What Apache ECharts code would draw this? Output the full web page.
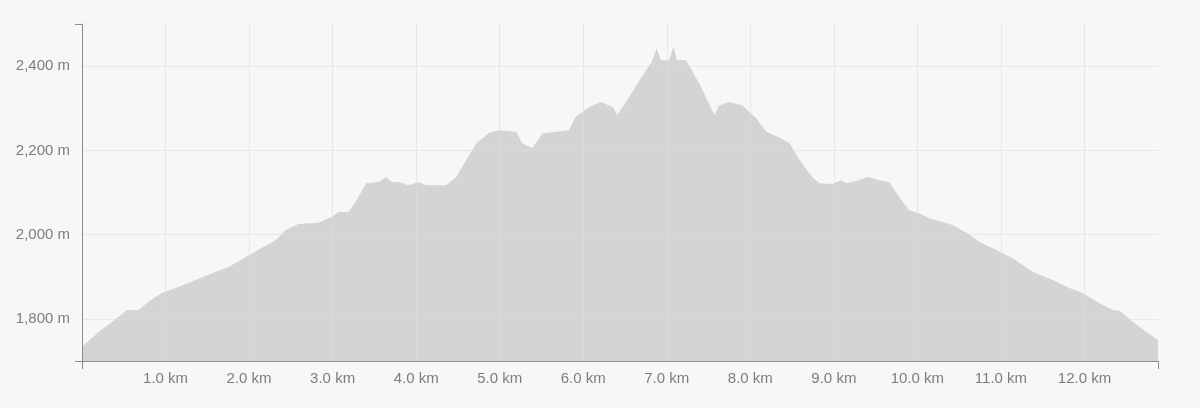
<!DOCTYPE html>
<html>
<head>
<meta charset="utf-8">
<script src="https://cdn.jsdelivr.net/npm/echarts@6/dist/echarts.min.js"></script>
<style>
  html, body { margin: 0; padding: 0; background: #f7f7f7; }
  #chart { width: 1200px; height: 408px; }
</style>
</head>
<body>
<div id="chart"></div>
<script>
// Distance along route (km)
const distanceKm = [
  0.00, 0.20, 0.44, 0.54, 0.68, 0.80, 0.95, 1.16, 1.36, 1.55,
  1.76, 1.96, 2.15, 2.32, 2.44, 2.59, 2.83, 2.99, 3.07, 3.19,
  3.29, 3.40, 3.55, 3.64, 3.71, 3.79, 3.91, 4.03, 4.12, 4.36,
  4.48, 4.60, 4.72, 4.87, 4.99, 5.20, 5.27, 5.39, 5.51, 5.67,
  5.83, 5.91, 6.07, 6.21, 6.35, 6.41, 6.55, 6.75, 6.82, 6.88,
  6.93, 7.03, 7.08, 7.12, 7.23, 7.39, 7.57, 7.63, 7.75, 7.90,
  8.07, 8.19, 8.35, 8.47, 8.59, 8.74, 8.83, 8.98, 9.09, 9.15,
  9.30, 9.40, 9.54, 9.66, 9.78, 9.90, 10.02, 10.14, 10.42, 10.59,
  10.74, 10.95, 11.14, 11.38, 11.62, 11.82, 11.98, 12.18, 12.34, 12.42,
  12.58, 12.74, 12.88
];
// Elevation (m)
const elevationM = [
  1734, 1769, 1805, 1821, 1821, 1841, 1861, 1876, 1892, 1908,
  1924, 1947, 1968, 1987, 2011, 2025, 2028, 2042, 2054, 2054,
  2082, 2122, 2125, 2137, 2125, 2125, 2117, 2125, 2117, 2117,
  2137, 2177, 2217, 2241, 2248, 2244, 2217, 2205, 2240, 2244,
  2248, 2280, 2303, 2315, 2303, 2284, 2327, 2390, 2410, 2442,
  2414, 2414, 2447, 2414, 2414, 2359, 2284, 2307, 2315, 2307,
  2276, 2244, 2230, 2217, 2177, 2137, 2122, 2120, 2129, 2122,
  2129, 2137, 2129, 2125, 2090, 2058, 2051, 2039, 2023, 2004,
  1983, 1963, 1944, 1912, 1892, 1873, 1861, 1837, 1821, 1819,
  1793, 1769, 1750
];
// Tick labels
const xTickValues = [1, 2, 3, 4, 5, 6, 7, 8, 9, 10, 11, 12];
const yTickValues = [1800, 2000, 2200, 2400];
const xRange = [0, 12.88];
const yRange = [1700, 2500];

const seriesData = distanceKm.map((d, i) => [d, elevationM[i]]);

const chart = echarts.init(document.getElementById('chart'), null, { renderer: 'canvas' });
const labelFont = { color: '#7d7d7d', fontSize: 15, fontFamily: 'Liberation Sans, Arial, sans-serif' };
const axisColor = '#8c8c8c';
const gridColor = 'rgba(220,220,220,0.55)';

chart.setOption({
  backgroundColor: '#f7f7f7',
  animation: false,
  grid: { left: 82, right: 42, top: 24, bottom: 47, containLabel: false },
  xAxis: [{
    type: 'value',
    min: xRange[0],
    max: xRange[1],
    z: 3,
    axisLine: { show: true, lineStyle: { color: axisColor, width: 1 } },
    axisTick: { show: false, customValues: xTickValues },
    axisLabel: Object.assign({
      customValues: xTickValues,
      margin: 10,
      formatter: v => v.toFixed(1) + ' km'
    }, labelFont),
    splitLine: { show: true, lineStyle: { color: gridColor, width: 1 } }
  }, {
    type: 'value',
    gridIndex: 0,
    position: 'bottom',
    min: xRange[0],
    max: xRange[1],
    z: 3,
    axisLine: { show: false },
    axisTick: { show: true, customValues: xRange, length: 8, lineStyle: { color: axisColor } },
    axisLabel: { show: false },
    splitLine: { show: false }
  }],
  yAxis: [{
    type: 'value',
    min: yRange[0],
    max: yRange[1],
    z: 3,
    axisLine: { show: true, lineStyle: { color: axisColor, width: 1 } },
    axisTick: { show: false, customValues: yTickValues },
    axisLabel: Object.assign({
      customValues: yTickValues,
      margin: 12,
      formatter: v => v.toLocaleString('en-US') + ' m'
    }, labelFont),
    splitLine: { show: true, lineStyle: { color: gridColor, width: 1 } }
  }, {
    type: 'value',
    gridIndex: 0,
    position: 'left',
    min: yRange[0],
    max: yRange[1],
    z: 3,
    axisLine: { show: false },
    axisTick: { show: true, customValues: yRange, length: 7, lineStyle: { color: axisColor } },
    axisLabel: { show: false },
    splitLine: { show: false }
  }],
  series: [{
    type: 'line',
    xAxisIndex: 0,
    yAxisIndex: 0,
    data: seriesData,
    showSymbol: false,
    symbol: 'none',
    smooth: false,
    lineStyle: { width: 0, opacity: 0 },
    areaStyle: { color: '#d4d4d4', opacity: 1 },
    z: 2
  }]
});
</script>
</body>
</html>
